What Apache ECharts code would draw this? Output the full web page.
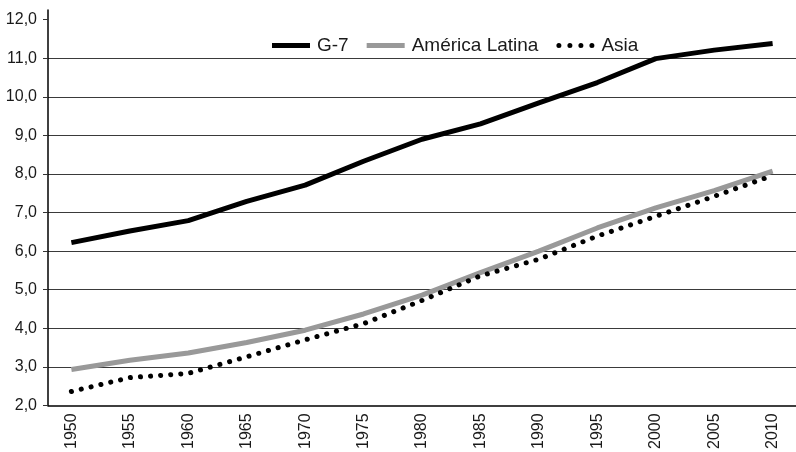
<!DOCTYPE html>
<html>
<head>
<meta charset="utf-8">
<script src="https://cdn.jsdelivr.net/npm/echarts@6/dist/echarts.min.js"></script>
<style>html,body{margin:0;padding:0;background:#fff}#c{width:796px;height:452px}</style>
</head>
<body>
<div id="c"></div>
<script>
const years = [1950,1955,1960,1965,1970,1975,1980,1985,1990,1995,2000,2005,2010];
const g7 =       [6.22,6.52,6.79,7.29,7.71,8.33,8.90,9.30,9.84,10.37,10.99,11.21,11.38];
const latina =   [2.93,3.17,3.36,3.63,3.95,4.37,4.86,5.44,6.00,6.60,7.12,7.57,8.07];
const asia =     [2.36,2.72,2.83,3.26,3.70,4.12,4.72,5.36,5.79,6.39,6.90,7.42,7.96];
const yTicks = [2,3,4,5,6,7,8,9,10,11,12];

const pair = arr => years.map((y, i) => [y, arr[i]]);
const font = "'Liberation Sans', Arial, Helvetica, sans-serif";

const barIcon = 'path://M0,0H38V5H0Z';
const dot = cx => 'M' + (cx - 2.5) + ',2.5a2.5,2.5 0 1,0 5,0a2.5,2.5 0 1,0 -5,0Z';
const dotIcon = 'path://' + [2.5, 13.5, 24.5, 35.5].map(dot).join(' ');

const chart = echarts.init(document.getElementById('c'));
chart.setOption({
  animation: false,
  backgroundColor: '#fff',
  textStyle: { fontFamily: font },
  grid: { left: 48, right: 0, top: 10, bottom: 43, containLabel: false },
  legend: {
    left: 267, top: 31,
    itemWidth: 38, itemHeight: 14, itemGap: 18,
    symbolKeepAspect: true,
    textStyle: { fontSize: 19, color: '#1a1a1a', fontFamily: font, padding: [0, 0, 0, 2] },
    data: [
      { name: 'G-7', icon: barIcon, itemStyle: { color: '#000' } },
      { name: 'América Latina', icon: barIcon, itemStyle: { color: '#999' } },
      { name: 'Asia', icon: dotIcon, itemStyle: { color: '#000' } }
    ]
  },
  xAxis: {
    type: 'value', min: 1948, max: 2012,
    axisLine: { lineStyle: { color: '#000', width: 1.5 } },
    axisTick: { show: false },
    splitLine: { show: false },
    axisLabel: {
      customValues: years, rotate: 90, margin: 8,
      fontSize: 16, color: '#1a1a1a', fontFamily: font,
      formatter: v => String(v)
    }
  },
  yAxis: {
    type: 'value', min: 2, max: 12.25, interval: 1,
    axisLine: { show: true, lineStyle: { color: '#000', width: 1.5 } },
    axisTick: { show: true, length: 5, customValues: yTicks, lineStyle: { color: '#333' } },
    splitLine: { show: true, showMinLine: false, showMaxLine: false, lineStyle: { color: '#3a3a3a', width: 1 } },
    axisLabel: {
      customValues: yTicks, margin: 11, fontSize: 16, color: '#1a1a1a', fontFamily: font,
      formatter: v => v.toFixed(1).replace('.', ',')
    }
  },
  series: [
    { name: 'G-7', type: 'line', data: pair(g7), symbol: 'none',
      lineStyle: { color: '#000', width: 5 }, itemStyle: { color: '#000' } },
    { name: 'América Latina', type: 'line', data: pair(latina), symbol: 'none',
      lineStyle: { color: '#999', width: 5 }, itemStyle: { color: '#999' } },
    { name: 'Asia', type: 'line', data: pair(asia), symbol: 'none',
      lineStyle: { color: '#000', width: 5, type: [0.1, 10], cap: 'round' }, itemStyle: { color: '#000' } }
  ]
});
</script>
</body>
</html>
